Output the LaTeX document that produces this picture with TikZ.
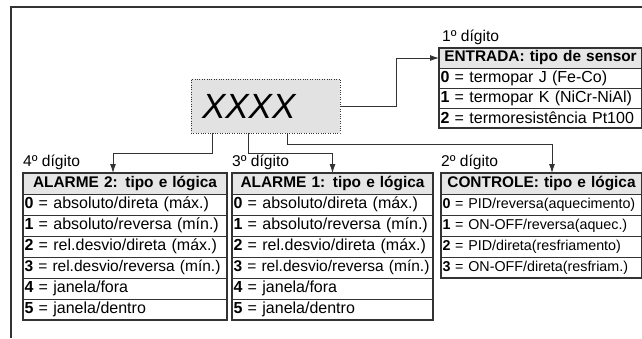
\documentclass[tikz,border=0pt]{standalone}
\usepackage{fontspec}
\setmainfont{Liberation Sans}
\usetikzlibrary{positioning,fit,arrows.meta}
\definecolor{traco}{HTML}{333333}
\definecolor{fundo}{HTML}{E6E6E6}
\definecolor{fundovisor}{HTML}{E2E2E2}

\begin{document}
\begin{tikzpicture}[x=1pt,y=-1pt,>={Latex[length=9pt,width=6pt]},
    font=\fontsize{16}{18}\selectfont,
    linha/.style={draw=traco,line width=0.9pt,anchor=north,outer sep=0,inner xsep=1.5pt,inner ysep=0,minimum height=21pt,text width=#1,align=left},
    cab/.style={linha=#1,fill=fundo,font=\fontsize{15.4}{18}\selectfont\bfseries,align=center},
    borda/.style={draw=traco,line width=2pt,inner sep=0},
    rotulo/.style={inner sep=0,font=\fontsize{15.6}{18}\selectfont},
    seta/.style={->,draw=traco,line width=0.9pt}]
    \useasboundingbox (0,0) rectangle (642,338);
    % moldura
    \draw[traco,line width=1.2pt] (642,7) -- (11,7) -- (11,338);
    % visor
    \path (265.5,106) node [draw=traco,dotted,fill=fundovisor,minimum width=149pt,minimum height=54pt,inner sep=0](visor){};
    \node [right=11pt of visor.west,inner sep=0,font=\fontsize{35}{40}\selectfont\itshape](xxxx){XXXX};
    % 1o digito
    \path (439,48) node [cab=200pt,anchor=north west,minimum height=20pt](enth){ENTRADA: tipo de sensor};
    \node [linha=200pt,minimum height=20pt,below=0pt of enth](ent0){\textbf{0} = termopar J (Fe-Co)};
    \node [linha=200pt,minimum height=20pt,below=0pt of ent0](ent1){\textbf{1} = termopar K (NiCr-NiAl)};
    \node [linha=200pt,minimum height=20pt,below=0pt of ent1](ent2){\textbf{2} = termoresistência Pt100};
    \node [borda,fit=(enth)(ent2)](ent){};
    \node [rotulo,above right=3pt and 3pt of enth.north west](r1){1º dígito};
    % 4o digito
    \path (23,173) node [cab=201pt,anchor=north west](al2h){ALARME 2: tipo e lógica};
    \node [linha=201pt,below=0pt of al2h](al20){\textbf{0} = absoluto/direta (máx.)};
    \node [linha=201pt,below=0pt of al20](al21){\textbf{1} = absoluto/reversa (mín.)};
    \node [linha=201pt,below=0pt of al21](al22){\textbf{2} = rel.desvio/direta (máx.)};
    \node [linha=201pt,below=0pt of al22,font=\fontsize{15.5}{18}\selectfont](al23){\textbf{3} = rel.desvio/reversa (mín.)};
    \node [linha=201pt,below=0pt of al23](al24){\textbf{4} = janela/fora};
    \node [linha=201pt,below=0pt of al24](al25){\textbf{5} = janela/dentro};
    \node [borda,fit=(al2h)(al25)](al2){};
    \node [rotulo,above right=3pt and 0pt of al2h.north west](r4){4º dígito};
    % 3o digito
    \path (232,173) node [cab=198pt,anchor=north west](al1h){ALARME 1: tipo e lógica};
    \node [linha=198pt,below=0pt of al1h](al10){\textbf{0} = absoluto/direta (máx.)};
    \node [linha=198pt,below=0pt of al10](al11){\textbf{1} = absoluto/reversa (mín.)};
    \node [linha=198pt,below=0pt of al11](al12){\textbf{2} = rel.desvio/direta (máx.)};
    \node [linha=198pt,below=0pt of al12,font=\fontsize{15.5}{18}\selectfont](al13){\textbf{3} = rel.desvio/reversa (mín.)};
    \node [linha=198pt,below=0pt of al13](al14){\textbf{4} = janela/fora};
    \node [linha=198pt,below=0pt of al14](al15){\textbf{5} = janela/dentro};
    \node [borda,fit=(al1h)(al15)](al1){};
    \node [rotulo,above right=3pt and 0pt of al1h.north west](r3){3º dígito};
    % 2o digito
    \path (441,173) node [cab=198pt,anchor=north west](ctlh){CONTROLE: tipo e lógica};
    \node [linha=198pt,below=0pt of ctlh,font=\fontsize{14.3}{18}\selectfont](ctl0){\textbf{0} = PID/reversa(aquecimento)};
    \node [linha=198pt,below=0pt of ctl0,font=\fontsize{14.3}{18}\selectfont](ctl1){\textbf{1} = ON-OFF/reversa(aquec.)};
    \node [linha=198pt,below=0pt of ctl1,font=\fontsize{14.3}{18}\selectfont](ctl2){\textbf{2} = PID/direta(resfriamento)};
    \node [linha=198pt,below=0pt of ctl2,font=\fontsize{14.3}{18}\selectfont](ctl3){\textbf{3} = ON-OFF/direta(resfriam.)};
    \node [borda,fit=(ctlh)(ctl3)](ctl){};
    \node [rotulo,above right=3pt and 0pt of ctlh.north west](r2){2º dígito};
    % ligacoes
    \draw[seta] (visor.east) -- ++(56,0) |- (enth.west);
    \draw[seta] (visor.south -| 212,0) -- ++(0,20) -| (al2h.north -| 113,0);
    \draw[seta] (visor.south -| 248,0) -- ++(0,20) -| (al1h.north);
    \draw[seta] (visor.south -| 287,0) -- ++(0,11) -| (ctlh.north -| 552,0);
  \end{tikzpicture}
\end{document}
